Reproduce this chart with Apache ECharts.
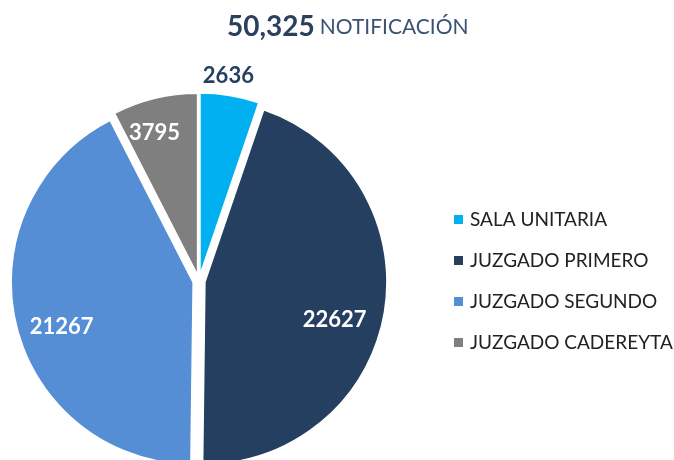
<!DOCTYPE html>
<html>
<head>
<meta charset="utf-8">
<script src="https://cdn.jsdelivr.net/npm/echarts@6/dist/echarts.min.js"></script>
<style>
  html, body { margin: 0; padding: 0; background: #fff; }
  #chart { width: 674px; height: 460px; }
</style>
</head>
<body>
<div id="chart"></div>
<script>
// Notification counts per court
const categories = ['SALA UNITARIA', 'JUZGADO PRIMERO', 'JUZGADO SEGUNDO', 'JUZGADO CADEREYTA'];
const counts = [2636, 22627, 21267, 3795];
const totalLabel = '50,325';
const titleWord = 'NOTIFICACIÓN';

const colors = ['#00B0F0', '#243F60', '#558ED5', '#7F7F7F'];
const labelColors = ['#243F60', '#ffffff', '#ffffff', '#ffffff'];
// nudges of the value labels away from the default inside spot
const labelShift = [[13, -106], [37, 22], [-40, 23], [-21, -51]];

const FONT = 'Lato, "Open Sans", sans-serif';

const chart = echarts.init(document.getElementById('chart'), null, { renderer: 'canvas' });

chart.setOption({
  animation: false,
  backgroundColor: '#ffffff',
  color: colors,
  title: {
    text: '{a|' + totalLabel + '} {b|' + titleWord + '}',
    left: 222,
    top: 8,
    textStyle: {
      rich: {
        a: { fontFamily: FONT, fontWeight: 'bold', fontSize: 28, color: '#2B3F5E' },
        b: { fontFamily: FONT, fontWeight: 'normal', fontSize: 21, color: '#3B5273' }
      }
    }
  },
  legend: {
    orient: 'vertical',
    left: 447,
    top: 205,
    icon: 'rect',
    itemWidth: 11,
    itemHeight: 11,
    itemGap: 22,
    selectedMode: false,
    data: categories,
    textStyle: {
      fontFamily: FONT,
      fontSize: 19,
      lineHeight: 19,
      color: '#222222',
      padding: [0, 0, 0, 1]
    }
  },
  series: [{
    type: 'pie',
    center: [199, 281],
    radius: 182,
    startAngle: 90,
    clockwise: true,
    selectedMode: 'multiple',
    selectedOffset: 6,
    silent: true,
    itemStyle: { borderColor: '#ffffff', borderWidth: 1.5 },
    labelLine: { show: false },
    label: {
      show: true,
      position: 'inside',
      formatter: '{c}',
      fontFamily: FONT,
      fontWeight: 'bold',
      fontSize: 22
    },
    labelLayout: function (params) {
      const s = labelShift[params.dataIndex];
      return { dx: s[0], dy: s[1] };
    },
    data: categories.map((name, i) => ({
      name: name,
      value: counts[i],
      selected: true,
      label: { color: labelColors[i] }
    }))
  }]
});
</script>
</body>
</html>
